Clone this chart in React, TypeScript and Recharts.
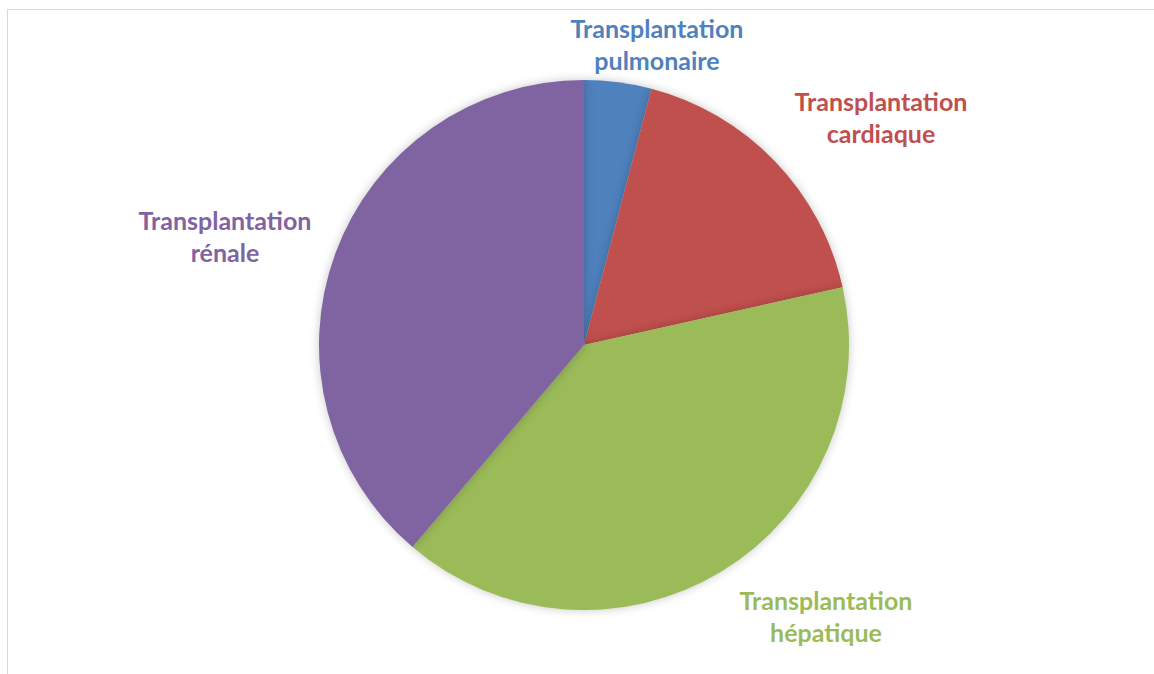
import React from "react";
import { PieChart, Pie, Cell } from "recharts";

// Share of each transplant type
const categories = [
  "Transplantation pulmonaire",
  "Transplantation cardiaque",
  "Transplantation hépatique",
  "Transplantation rénale",
];
const labelLines = [
  ["Transplantation", "pulmonaire"],
  ["Transplantation", "cardiaque"],
  ["Transplantation", "hépatique"],
  ["Transplantation", "rénale"],
];
const values = [4.1, 17.4, 39.7, 38.8];

const COLORS = ["#4F81BD", "#C0504D", "#9BBB59", "#8064A2"];
// label centre offsets from pie centre (Excel "best fit" placement)
const LABEL_OFFSETS: [number, number][] = [
  [73, -299],
  [297, -226],
  [242, 273],
  [-359, -107],
];

const data = categories.map((name, i) => ({ name, value: values[i] }));

const renderLabel = (props: any) => {
  const { cx, cy, index } = props;
  const [dx, dy] = LABEL_OFFSETS[index];
  const lines = labelLines[index];
  return (
    <text
      x={cx + dx}
      y={cy + dy}
      textAnchor="middle"
      fill={COLORS[index]}
      fontFamily="Lato, 'Open Sans', sans-serif"
      fontWeight="bold"
      fontSize={25}
    >
      <tspan x={cx + dx} dy={-8}>
        {lines[0]}
      </tspan>
      <tspan x={cx + dx} dy={32}>
        {lines[1]}
      </tspan>
    </text>
  );
};

export default function App() {
  return (
    <>
      <style>{`
        body { margin: 0; overflow: hidden; }
        .recharts-pie-sector { filter: drop-shadow(0 0 5px rgba(0,0,0,0.22)); }
      `}</style>
      <div
        style={{
          marginLeft: 7,
          marginTop: 9,
          width: 1147,
          height: 665,
          borderTop: "1px solid #d9d9d9",
          borderLeft: "1px solid #d9d9d9",
          background: "#fff",
        }}
      >
        <PieChart width={1146} height={664} margin={{ top: 0, right: 0, bottom: 0, left: 0 }}>
          <Pie
            data={data}
            dataKey="value"
            nameKey="name"
            cx={576}
            cy={335}
            outerRadius={265}
            startAngle={90}
            endAngle={-270}
            stroke="none"
            label={renderLabel}
            labelLine={false}
            isAnimationActive={false}
          >
            {data.map((d, i) => (
              <Cell key={d.name} fill={COLORS[i]} />
            ))}
          </Pie>
        </PieChart>
      </div>
    </>
  );
}
